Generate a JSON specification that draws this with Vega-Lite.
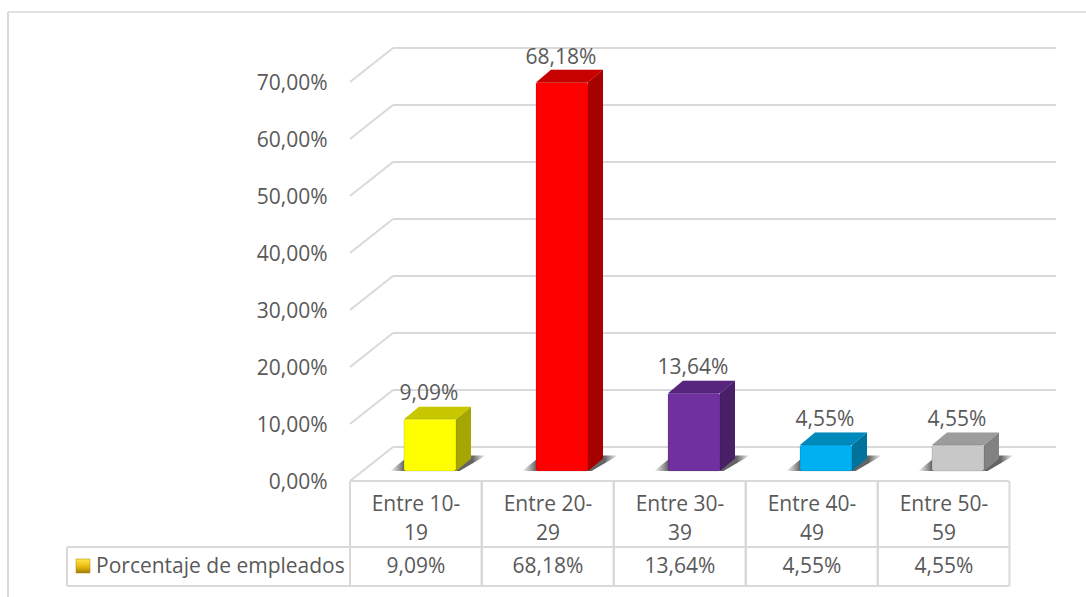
{
  "$schema": "https://vega.github.io/schema/vega-lite/v6.json",
  "width": 1086,
  "height": 597,
  "padding": 0,
  "autosize": "none",
  "background": "white",
  "view": {"stroke": null},
  "config": {"text": {"font": "Open Sans", "fontSize": 21, "color": "#595959"}},
  "datasets": {
    "grupos": [
      {"grupo": "Entre 10-19", "porcentaje": 9.09},
      {"grupo": "Entre 20-29", "porcentaje": 68.18},
      {"grupo": "Entre 30-39", "porcentaje": 13.64},
      {"grupo": "Entre 40-49", "porcentaje": 4.55},
      {"grupo": "Entre 50-59", "porcentaje": 4.55}
    ],
    "marcas": [
      {"valor": 0}, {"valor": 10}, {"valor": 20}, {"valor": 30},
      {"valor": 40}, {"valor": 50}, {"valor": 60}, {"valor": 70}
    ],
    "serie": [{"leyenda": "Porcentaje de empleados"}]
  },
  "data": {"name": "grupos"},
  "transform": [
    {"window": [{"op": "row_number", "as": "n"}]},
    {"calculate": "datum.n - 1", "as": "i"},
    {"calculate": "datum.i + 0.409", "as": "x0"},
    {"calculate": "datum.i + 0.803", "as": "x1"},
    {"calculate": "1.754", "as": "suelo"},
    {"calculate": "1.754 + datum.porcentaje", "as": "techo"},
    {"calculate": "replace(format(datum.porcentaje, '.2f'), '.', ',') + '%'", "as": "etiqueta"},
    {"calculate": "replace(datum.grupo, '-', '-\\n')", "as": "rotulo"}
  ],
  "layer": [
    {
      "data": {"name": "marcas"},
      "transform": [
        {"calculate": "datum.valor + 5.965", "as": "fondo"},
        {"calculate": "0.3258", "as": "fx0"},
        {"calculate": "5.348", "as": "fx1"}
      ],
      "mark": {"type": "rule", "color": "#d9d9d9", "strokeWidth": 2},
      "encoding": {
        "x": {"field": "fx0", "type": "quantitative", "scale": {"domain": [-2.65152, 5.57576]}, "axis": null},
        "x2": {"field": "fx1"},
        "y": {"field": "fondo", "type": "quantitative", "scale": {"domain": [-20.351, 84.386]}, "axis": null}
      }
    },
    {
      "data": {"name": "marcas"},
      "transform": [
        {"calculate": "[0, 1]", "as": "d"},
        {"flatten": ["d"]},
        {"calculate": "datum.d * 0.3258", "as": "px"},
        {"calculate": "datum.valor + datum.d * 5.965", "as": "py"}
      ],
      "mark": {"type": "line", "color": "#d9d9d9", "strokeWidth": 2},
      "encoding": {
        "x": {"field": "px", "type": "quantitative", "scale": {"domain": [-2.65152, 5.57576]}, "axis": null},
        "y": {"field": "py", "type": "quantitative", "scale": {"domain": [-20.351, 84.386]}, "axis": null},
        "detail": {"field": "valor", "type": "nominal"},
        "order": {"field": "d", "type": "quantitative"}
      }
    },
    {
      "data": {"name": "marcas"},
      "transform": [
        {"calculate": "-0.17", "as": "ax"},
        {"calculate": "datum.valor - 0.42", "as": "ay"},
        {"calculate": "replace(format(datum.valor, '.2f'), '.', ',') + '%'", "as": "texto"}
      ],
      "mark": {"type": "text", "align": "right", "baseline": "middle"},
      "encoding": {
        "x": {"field": "ax", "type": "quantitative", "scale": {"domain": [-2.65152, 5.57576]}, "axis": null},
        "y": {"field": "ay", "type": "quantitative", "scale": {"domain": [-20.351, 84.386]}, "axis": null},
        "text": {"field": "texto", "type": "nominal"}
      }
    },
    {
      "transform": [
        {"calculate": "[0, 1]", "as": "d"},
        {"flatten": ["d"]},
        {"calculate": "datum.i + (datum.d ? 0.45 : 0.303)", "as": "sa"},
        {"calculate": "datum.i + (datum.d ? 1.03 : 0.83)", "as": "sb"},
        {"calculate": "1.754 + datum.d * 2.7", "as": "sy"}
      ],
      "mark": {
        "type": "area",
        "color": {"gradient": "linear", "x1": 0, "x2": 1, "y1": 0, "y2": 0, "stops": [
          {"offset": 0, "color": "rgba(100,100,100,0)"},
          {"offset": 0.15, "color": "rgba(100,100,100,1)"},
          {"offset": 0.86, "color": "rgba(100,100,100,1)"},
          {"offset": 1, "color": "rgba(100,100,100,0)"}
        ]}
      },
      "encoding": {
        "y": {"field": "sy", "type": "quantitative", "scale": {"domain": [-20.351, 84.386]}, "axis": null},
        "x": {"field": "sa", "type": "quantitative", "scale": {"domain": [-2.65152, 5.57576]}, "axis": null},
        "x2": {"field": "sb"},
        "detail": {"field": "grupo", "type": "nominal"}
      }
    },
    {
      "transform": [
        {"calculate": "[0, 1]", "as": "d"},
        {"flatten": ["d"]},
        {"calculate": "datum.x1 + datum.d * 0.1136", "as": "lx"},
        {"calculate": "1.754 + datum.d * 2.2", "as": "la"},
        {"calculate": "datum.techo + datum.d * 2.2", "as": "lb"}
      ],
      "layer": [
        {
          "mark": {"type": "area"},
          "encoding": {
            "x": {"field": "lx", "type": "quantitative", "scale": {"domain": [-2.65152, 5.57576]}, "axis": null},
            "y": {"field": "la", "type": "quantitative", "scale": {"domain": [-20.351, 84.386]}, "axis": null},
            "y2": {"field": "lb"},
            "detail": {"field": "grupo", "type": "nominal"},
            "color": {"field": "grupo", "type": "nominal", "legend": null, "scale": {"domain": ["Entre 10-19", "Entre 20-29", "Entre 30-39", "Entre 40-49", "Entre 50-59"], "range": ["#ffff00", "#ff0000", "#7030a0", "#00b0f0", "#c8c8c8"]}}
          }
        },
        {
          "mark": {"type": "area", "color": "black", "opacity": 0.35},
          "encoding": {
            "x": {"field": "lx", "type": "quantitative", "scale": {"domain": [-2.65152, 5.57576]}, "axis": null},
            "y": {"field": "la", "type": "quantitative", "scale": {"domain": [-20.351, 84.386]}, "axis": null},
            "y2": {"field": "lb"},
            "detail": {"field": "grupo", "type": "nominal"}
          }
        }
      ]
    },
    {
      "transform": [
        {"calculate": "[0, 1]", "as": "d"},
        {"flatten": ["d"]},
        {"calculate": "datum.techo + datum.d * 2.2", "as": "ty"},
        {"calculate": "datum.x0 + datum.d * 0.1136", "as": "ta"},
        {"calculate": "datum.x1 + datum.d * 0.1136", "as": "tb"}
      ],
      "layer": [
        {
          "mark": {"type": "area"},
          "encoding": {
            "y": {"field": "ty", "type": "quantitative", "scale": {"domain": [-20.351, 84.386]}, "axis": null},
            "x": {"field": "ta", "type": "quantitative", "scale": {"domain": [-2.65152, 5.57576]}, "axis": null},
            "x2": {"field": "tb"},
            "detail": {"field": "grupo", "type": "nominal"},
            "color": {"field": "grupo", "type": "nominal", "legend": null, "scale": {"domain": ["Entre 10-19", "Entre 20-29", "Entre 30-39", "Entre 40-49", "Entre 50-59"], "range": ["#ffff00", "#ff0000", "#7030a0", "#00b0f0", "#c8c8c8"]}}
          }
        },
        {
          "mark": {"type": "area", "color": "black", "opacity": 0.22},
          "encoding": {
            "y": {"field": "ty", "type": "quantitative", "scale": {"domain": [-20.351, 84.386]}, "axis": null},
            "x": {"field": "ta", "type": "quantitative", "scale": {"domain": [-2.65152, 5.57576]}, "axis": null},
            "x2": {"field": "tb"},
            "detail": {"field": "grupo", "type": "nominal"}
          }
        }
      ]
    },
    {
      "mark": {"type": "rect", "cornerRadius": 2, "stroke": "black", "strokeOpacity": 0.12, "strokeWidth": 1},
      "encoding": {
        "x": {"field": "x0", "type": "quantitative", "scale": {"domain": [-2.65152, 5.57576]}, "axis": null},
        "x2": {"field": "x1"},
        "y": {"field": "suelo", "type": "quantitative", "scale": {"domain": [-20.351, 84.386]}, "axis": null},
        "y2": {"field": "techo"},
        "color": {"field": "grupo", "type": "nominal", "legend": null, "scale": {"domain": ["Entre 10-19", "Entre 20-29", "Entre 30-39", "Entre 40-49", "Entre 50-59"], "range": ["#ffff00", "#ff0000", "#7030a0", "#00b0f0", "#c8c8c8"]}}
      }
    },
    {
      "transform": [
        {"calculate": "datum.i + 0.598", "as": "ex"},
        {"calculate": "datum.porcentaje + 6.1", "as": "ey"}
      ],
      "mark": {"type": "text", "align": "center", "baseline": "middle"},
      "encoding": {
        "x": {"field": "ex", "type": "quantitative", "scale": {"domain": [-2.65152, 5.57576]}, "axis": null},
        "y": {"field": "ey", "type": "quantitative", "scale": {"domain": [-20.351, 84.386]}, "axis": null},
        "text": {"field": "etiqueta", "type": "nominal"}
      }
    },
    {
      "transform": [
        {"calculate": "datum.i + 0.5", "as": "cx"},
        {"calculate": "-4.2", "as": "cy"},
        {"calculate": "-15.15", "as": "vy"}
      ],
      "layer": [
        {
          "mark": {"type": "text", "align": "center", "baseline": "middle", "lineBreak": "\n", "lineHeight": 29},
          "encoding": {
            "x": {"field": "cx", "type": "quantitative", "scale": {"domain": [-2.65152, 5.57576]}, "axis": null},
            "y": {"field": "cy", "type": "quantitative", "scale": {"domain": [-20.351, 84.386]}, "axis": null},
            "text": {"field": "rotulo", "type": "nominal"}
          }
        },
        {
          "mark": {"type": "text", "align": "center", "baseline": "middle"},
          "encoding": {
            "x": {"field": "cx", "type": "quantitative", "scale": {"domain": [-2.65152, 5.57576]}, "axis": null},
            "y": {"field": "vy", "type": "quantitative", "scale": {"domain": [-20.351, 84.386]}, "axis": null},
            "text": {"field": "etiqueta", "type": "nominal"}
          }
        }
      ]
    },
    {
      "transform": [
        {"calculate": "0", "as": "ya"},
        {"calculate": "-18.42", "as": "yb"},
        {"calculate": "datum.i + 0.996", "as": "xd"}
      ],
      "layer": [
        {
          "mark": {"type": "rule", "color": "#d9d9d9", "strokeWidth": 2},
          "encoding": {
            "x": {"field": "i", "type": "quantitative", "scale": {"domain": [-2.65152, 5.57576]}, "axis": null},
            "y": {"field": "ya", "type": "quantitative", "scale": {"domain": [-20.351, 84.386]}, "axis": null},
            "y2": {"field": "yb"}
          }
        },
        {
          "mark": {"type": "rule", "color": "#d9d9d9", "strokeWidth": 2},
          "encoding": {
            "x": {"field": "xd", "type": "quantitative", "scale": {"domain": [-2.65152, 5.57576]}, "axis": null},
            "y": {"field": "ya", "type": "quantitative", "scale": {"domain": [-20.351, 84.386]}, "axis": null},
            "y2": {"field": "yb"}
          }
        }
      ]
    },
    {
      "data": {"name": "serie"},
      "transform": [
        {"calculate": "-2.591", "as": "mx"},
        {"calculate": "5.57576", "as": "mxr"},
        {"calculate": "-20.351", "as": "mya"},
        {"calculate": "82.3", "as": "myb"},
        {"calculate": "0", "as": "t0"},
        {"calculate": "-2.144", "as": "tl"},
        {"calculate": "4.992", "as": "tr"},
        {"calculate": "-11.58", "as": "tm"},
        {"calculate": "-18.42", "as": "tb"},
        {"calculate": "-2.0758", "as": "kx0"},
        {"calculate": "-1.9697", "as": "kx1"},
        {"calculate": "-13.68", "as": "ky0"},
        {"calculate": "-16.14", "as": "ky1"},
        {"calculate": "-1.924", "as": "lx"},
        {"calculate": "-15.15", "as": "ly"}
      ],
      "layer": [
        {
          "mark": {"type": "rule", "color": "#d9d9d9", "strokeWidth": 2},
          "encoding": {
            "x": {"field": "mx", "type": "quantitative", "scale": {"domain": [-2.65152, 5.57576]}, "axis": null},
            "y": {"field": "mya", "type": "quantitative", "scale": {"domain": [-20.351, 84.386]}, "axis": null},
            "y2": {"field": "myb"}
          }
        },
        {
          "mark": {"type": "rule", "color": "#d9d9d9", "strokeWidth": 1.5},
          "encoding": {
            "x": {"field": "mx", "type": "quantitative", "scale": {"domain": [-2.65152, 5.57576]}, "axis": null},
            "x2": {"field": "mxr"},
            "y": {"field": "myb", "type": "quantitative", "scale": {"domain": [-20.351, 84.386]}, "axis": null}
          }
        },
        {
          "mark": {"type": "rule", "color": "#d9d9d9", "strokeWidth": 2},
          "encoding": {
            "x": {"field": "t0", "type": "quantitative", "scale": {"domain": [-2.65152, 5.57576]}, "axis": null},
            "x2": {"field": "tr"},
            "y": {"field": "t0", "type": "quantitative", "scale": {"domain": [-20.351, 84.386]}, "axis": null}
          }
        },
        {
          "mark": {"type": "rule", "color": "#d9d9d9", "strokeWidth": 2},
          "encoding": {
            "x": {"field": "tl", "type": "quantitative", "scale": {"domain": [-2.65152, 5.57576]}, "axis": null},
            "x2": {"field": "tr"},
            "y": {"field": "tm", "type": "quantitative", "scale": {"domain": [-20.351, 84.386]}, "axis": null}
          }
        },
        {
          "mark": {"type": "rule", "color": "#d9d9d9", "strokeWidth": 2},
          "encoding": {
            "x": {"field": "tl", "type": "quantitative", "scale": {"domain": [-2.65152, 5.57576]}, "axis": null},
            "x2": {"field": "tr"},
            "y": {"field": "tb", "type": "quantitative", "scale": {"domain": [-20.351, 84.386]}, "axis": null}
          }
        },
        {
          "mark": {"type": "rule", "color": "#d9d9d9", "strokeWidth": 2},
          "encoding": {
            "x": {"field": "tl", "type": "quantitative", "scale": {"domain": [-2.65152, 5.57576]}, "axis": null},
            "y": {"field": "tm", "type": "quantitative", "scale": {"domain": [-20.351, 84.386]}, "axis": null},
            "y2": {"field": "tb"}
          }
        },
        {
          "mark": {
            "type": "rect", "stroke": "#a8860a", "strokeWidth": 0.5,
            "fill": {"gradient": "linear", "x1": 0, "x2": 0, "y1": 0, "y2": 1, "stops": [
              {"offset": 0, "color": "#ffe94a"},
              {"offset": 0.55, "color": "#e8bb10"},
              {"offset": 1, "color": "#a07c08"}
            ]}
          },
          "encoding": {
            "x": {"field": "kx0", "type": "quantitative", "scale": {"domain": [-2.65152, 5.57576]}, "axis": null},
            "x2": {"field": "kx1"},
            "y": {"field": "ky0", "type": "quantitative", "scale": {"domain": [-20.351, 84.386]}, "axis": null},
            "y2": {"field": "ky1"}
          }
        },
        {
          "mark": {"type": "text", "align": "left", "baseline": "middle"},
          "encoding": {
            "x": {"field": "lx", "type": "quantitative", "scale": {"domain": [-2.65152, 5.57576]}, "axis": null},
            "y": {"field": "ly", "type": "quantitative", "scale": {"domain": [-20.351, 84.386]}, "axis": null},
            "text": {"field": "leyenda", "type": "nominal"}
          }
        }
      ]
    }
  ]
}
